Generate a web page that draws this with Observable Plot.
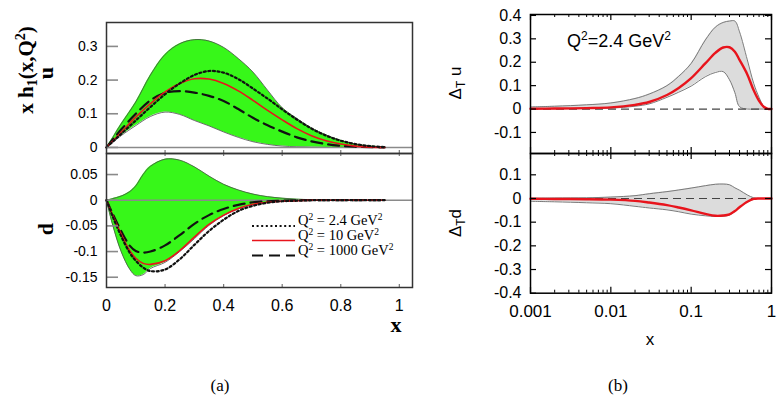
<!DOCTYPE html>
<html><head><meta charset="utf-8">
<script src="https://cdn.jsdelivr.net/npm/d3@7"></script>
<script src="https://cdn.jsdelivr.net/npm/@observablehq/plot@0.6"></script>
<style>
body{margin:0;background:#fff;}
#fig{position:relative;width:782px;height:402px;overflow:hidden;background:#fff;}
</style></head><body><div id="fig"></div>
<script>
// ---------- Panel (a): x h1(x,Q^2), u quark ----------
const xU = [0,0.025,0.05,0.1,0.15,0.2,0.25,0.3,0.35,0.4,0.45,0.5,0.55,0.6,0.65,0.7,0.75,0.8,0.85,0.9,0.95];
const uUpper = [0,0.035,0.07,0.135,0.215,0.276,0.308,0.32,0.316,0.297,0.264,0.224,0.17,0.118,0.086,0.058,0.037,0.021,0.01,0.004,0.001];
const uLower = [0,0.018,0.035,0.065,0.092,0.105,0.098,0.08,0.064,0.046,0.03,0.017,0.009,0.004,0.002,0.001,0,0,0,0,0];
const uQ24   = [0,0.02,0.04,0.08,0.12,0.158,0.19,0.215,0.227,0.222,0.203,0.175,0.145,0.113,0.083,0.056,0.035,0.02,0.01,0.004,0.001];
const uQ10   = [0,0.022,0.045,0.09,0.13,0.165,0.19,0.204,0.203,0.19,0.168,0.14,0.11,0.082,0.056,0.035,0.02,0.01,0.004,0.001,0];
const uQ1000 = [0,0.027,0.053,0.1,0.14,0.162,0.167,0.163,0.153,0.138,0.114,0.088,0.066,0.047,0.03,0.018,0.01,0.005,0.002,0.001,0];

// ---------- Panel (a): d quark ----------
const xD = [0,0.02,0.05,0.08,0.1,0.125,0.15,0.2,0.25,0.3,0.35,0.4,0.45,0.5,0.55,0.6,0.65,0.7,0.75,0.8,0.85,0.9,0.95];
const dUpper = [0,0.003,0.008,0.017,0.028,0.05,0.066,0.08,0.078,0.065,0.047,0.031,0.02,0.012,0.007,0.004,0.002,0.001,0,0,0,0,0];
const dLower = [0,-0.046,-0.1,-0.135,-0.147,-0.145,-0.133,-0.121,-0.1,-0.075,-0.049,-0.03,-0.017,-0.009,-0.004,-0.002,-0.001,0,0,0,0,0,0];
const dQ24   = [0,-0.03,-0.07,-0.103,-0.118,-0.131,-0.138,-0.135,-0.115,-0.087,-0.06,-0.038,-0.021,-0.011,-0.005,-0.002,-0.001,0,0,0,0,0,0];
const dQ10   = [0,-0.028,-0.066,-0.099,-0.113,-0.123,-0.125,-0.118,-0.098,-0.072,-0.047,-0.029,-0.016,-0.008,-0.004,-0.002,-0.001,0,0,0,0,0,0];
const dQ1000 = [0,-0.025,-0.06,-0.089,-0.099,-0.102,-0.1,-0.088,-0.068,-0.046,-0.029,-0.017,-0.009,-0.004,-0.002,-0.001,0,0,0,0,0,0,0];

// ---------- Panel (b): transversity at Q^2 = 2.4 GeV^2 ----------
const xB = [0.001,0.002,0.005,0.01,0.02,0.03,0.05,0.07,0.1,0.15,0.2,0.25,0.3,0.35,0.4,0.5,0.6,0.7,0.8,0.9,1.0];
const tuUpper = [0.009,0.012,0.018,0.026,0.045,0.064,0.1,0.14,0.195,0.295,0.35,0.37,0.376,0.376,0.33,0.21,0.11,0.05,0.012,0.002,0];
const tuLower = [0,0.001,0.002,0.004,0.012,0.022,0.05,0.072,0.098,0.138,0.156,0.16,0.125,0.07,0.01,0,0,0,0,0,0];
const tuCentral = [0.001,0.002,0.004,0.007,0.018,0.03,0.06,0.09,0.132,0.195,0.24,0.263,0.264,0.245,0.21,0.148,0.08,0.035,0.01,0.001,0];
const tdUpper = [0.001,0.002,0.003,0.006,0.012,0.02,0.029,0.036,0.044,0.054,0.06,0.061,0.058,0.045,0.035,0.015,0.003,0,0,0,0];
const tdLower = [-0.012,-0.014,-0.018,-0.022,-0.033,-0.04,-0.048,-0.056,-0.066,-0.073,-0.076,-0.075,-0.07,-0.055,-0.038,-0.015,-0.003,0,0,0,0];
const tdCentral = [-0.001,-0.002,-0.003,-0.005,-0.01,-0.017,-0.028,-0.038,-0.05,-0.065,-0.073,-0.072,-0.067,-0.053,-0.037,-0.014,-0.002,0,0,0,0];

// ---------- ticks ----------
const aTopYTicks = [0, 0.1, 0.2, 0.3];
const aBotYTicks = [0.05, 0, -0.05, -0.1, -0.15];
const aXTicks = [0, 0.2, 0.4, 0.6, 0.8, 1];
const bXTicks = [0.001, 0.01, 0.1, 1];
const bXMinor = [0.002,0.003,0.004,0.005,0.006,0.007,0.008,0.009,0.02,0.03,0.04,0.05,0.06,0.07,0.08,0.09,0.2,0.3,0.4,0.5,0.6,0.7,0.8,0.9];
const bTopYTicks = [-0.1, 0, 0.1, 0.2, 0.3, 0.4];
const bBotYTicks = [-0.4, -0.3, -0.2, -0.1, 0, 0.1];

const legendLabels = ["2.4", "10", "1000"];

// ---------- build ----------
const fig = document.getElementById("fig");
const GREEN = "#37f719";
const RED = "#e8141c";
const SANS = "'Liberation Sans', Arial, Helvetica, sans-serif";
const curve = "catmull-rom";
const fmt = d => String(d);

function place(el, left, top) {
  el.style.position = "absolute";
  el.style.left = left + "px";
  el.style.top = top + "px";
  fig.appendChild(el);
}

const uRows = xU.map((x, i) => ({x, lo: uLower[i], hi: uUpper[i], a: uQ24[i], b: uQ10[i], c: uQ1000[i]}));
const dRows = xD.map((x, i) => ({x, lo: dLower[i], hi: dUpper[i], a: dQ24[i], b: dQ10[i], c: dQ1000[i]}));
const tuRows = xB.map((x, i) => ({x, lo: tuLower[i], hi: tuUpper[i], m: tuCentral[i]}));
const tdRows = xB.map((x, i) => ({x, lo: tdLower[i], hi: tdUpper[i], m: tdCentral[i]}));

function panelAMarks(rows, innerW, innerH, yTicks, topTicks, bottomTicks) {
  const marks = [
    Plot.areaY(rows, {x: "x", y1: "lo", y2: "hi", fill: GREEN, curve}),
    Plot.line(rows, {x: "x", y: "hi", stroke: "#4a4a4a", strokeWidth: 0.8, curve}),
    Plot.line(rows, {x: "x", y: "lo", stroke: "#4a4a4a", strokeWidth: 0.8, curve}),
    Plot.ruleY([0], {stroke: "#8a8a8a", strokeWidth: 1.6}),
    Plot.line(rows, {x: "x", y: "c", stroke: "#111", strokeWidth: 2.2, strokeDasharray: "11,6", curve}),
    Plot.line(rows, {x: "x", y: "b", stroke: RED, strokeWidth: 1.6, curve}),
    Plot.line(rows, {x: "x", y: "a", stroke: "#111", strokeWidth: 2.2, strokeDasharray: "2,2.6", curve}),
    Plot.tickY(yTicks, {y: d => d, insetRight: innerW - 12, stroke: "#8a8a8a", strokeWidth: 1.6}),
    Plot.axisY(yTicks, {tickSize: 0, tickPadding: 9, fontSize: 14, tickFormat: fmt, label: null})
  ];
  if (topTicks) marks.push(Plot.tickX(aXTicks.slice(1), {x: d => d, insetBottom: innerH - 3, stroke: "#777", strokeWidth: 1.2}));
  if (bottomTicks) marks.push(Plot.tickX(aXTicks.slice(1), {x: d => d, insetTop: innerH - 3, stroke: "#777", strokeWidth: 1.2}));
  marks.push(Plot.frame({stroke: "#333", strokeWidth: 1.5}));
  return marks;
}

// (a) top: u
{
  const W = 420, H = 154, mL = 106, mR = 8, mT = 22, mB = 1;
  const p = Plot.plot({
    width: W, height: H, marginLeft: mL, marginRight: mR, marginTop: mT, marginBottom: mB,
    style: {background: "transparent", fontFamily: SANS, overflow: "visible"},
    x: {domain: [0, 1.045], axis: null, label: null},
    y: {domain: [-0.018, 0.371], label: null},
    marks: panelAMarks(uRows, W - mL - mR, H - mT - mB, aTopYTicks, false, true)
  });
  place(p, 0, 0);
}
// (a) bottom: d
{
  const W = 420, H = 190, mL = 106, mR = 8, mT = 0, mB = 56;
  const p = Plot.plot({
    width: W, height: H, marginLeft: mL, marginRight: mR, marginTop: mT, marginBottom: mB,
    style: {background: "transparent", fontFamily: SANS, overflow: "visible"},
    x: {domain: [0, 1.045], label: null},
    y: {domain: [-0.170, 0.091], label: null},
    marks: [
      ...panelAMarks(dRows, W - mL - mR, H - mT - mB, aBotYTicks, true, true),
      Plot.axisX(aXTicks, {tickSize: 0, tickPadding: 12, fontSize: 16, tickFormat: fmt, label: null})
    ]
  });
  place(p, 0, 153);
}

function panelBMarks(rows, innerW, innerH, yTicks) {
  return [
    Plot.areaY(rows, {x: "x", y1: "lo", y2: "hi", fill: "#dcdcdc", curve}),
    Plot.line(rows, {x: "x", y: "hi", stroke: "#7a7a7a", strokeWidth: 1, curve}),
    Plot.line(rows, {x: "x", y: "lo", stroke: "#7a7a7a", strokeWidth: 1, curve}),
    Plot.ruleY([0], {stroke: "#444", strokeWidth: 1.2, strokeDasharray: "8,5"}),
    Plot.line(rows, {x: "x", y: "m", stroke: RED, strokeWidth: 2.4, curve}),
    Plot.tickX(bXTicks, {x: d => d, insetBottom: innerH - 6, stroke: "#000", strokeWidth: 1.2}),
    Plot.tickX(bXTicks, {x: d => d, insetTop: innerH - 6, stroke: "#000", strokeWidth: 1.2}),
    Plot.tickX(bXMinor, {x: d => d, insetBottom: innerH - 3, stroke: "#000", strokeWidth: 1}),
    Plot.tickX(bXMinor, {x: d => d, insetTop: innerH - 3, stroke: "#000", strokeWidth: 1}),
    Plot.tickY(yTicks, {y: d => d, insetRight: innerW - 6, stroke: "#000", strokeWidth: 1.2}),
    Plot.tickY(yTicks, {y: d => d, insetLeft: innerW - 6, stroke: "#000", strokeWidth: 1.2}),
    Plot.axisY(yTicks, {tickSize: 0, tickPadding: 9, fontSize: 16, tickFormat: fmt, label: null}),
    Plot.frame({stroke: "#000", strokeWidth: 1.5})
  ];
}

// (b) top: Delta_T u
{
  const W = 362, H = 154, mL = 110, mR = 11, mT = 14, mB = 1;
  const p = Plot.plot({
    width: W, height: H, marginLeft: mL, marginRight: mR, marginTop: mT, marginBottom: mB,
    style: {background: "transparent", fontFamily: SANS, overflow: "visible"},
    x: {type: "log", domain: [0.001, 1], axis: null, label: null},
    y: {domain: [-0.19, 0.404], label: null},
    marks: panelBMarks(tuRows, W - mL - mR, H - mT - mB, bTopYTicks)
  });
  place(p, 420, 0);
}
// (b) bottom: Delta_T d
{
  const W = 362, H = 200, mL = 110, mR = 11, mT = 0, mB = 60.3;
  const p = Plot.plot({
    width: W, height: H, marginLeft: mL, marginRight: mR, marginTop: mT, marginBottom: mB,
    style: {background: "transparent", fontFamily: SANS, overflow: "visible"},
    x: {type: "log", domain: [0.001, 1], label: null},
    y: {domain: [-0.4, 0.19], label: null},
    marks: [
      ...panelBMarks(tdRows, W - mL - mR, H - mT - mB, bBotYTicks),
      Plot.axisX(bXTicks, {tickSize: 0, tickPadding: 12, fontSize: 17, tickFormat: fmt, label: null})
    ]
  });
  place(p, 420, 153);
}

// ---------- labels, legend, captions ----------
const SERIF = "'Liberation Serif', 'Times New Roman', serif";
const legendY = [226, 240.5, 255.5];
const legendStyles = [
  `stroke="#111" stroke-width="2.2" stroke-dasharray="2,2.6"`,
  `stroke="${RED}" stroke-width="1.6"`,
  `stroke="#111" stroke-width="2.2" stroke-dasharray="11,6"`
];
let legend = "";
legendLabels.forEach((lab, i) => {
  legend += `<line x1="252" x2="295" y1="${legendY[i]}" y2="${legendY[i]}" ${legendStyles[i]}/>`;
  legend += `<text x="298" y="${legendY[i] - 1}" font-family="${SERIF}" font-size="14.5">Q<tspan dy="-5" font-size="9.5">2</tspan><tspan dy="5"> = ${lab} GeV</tspan><tspan dy="-5" font-size="9.5">2</tspan></text>`;
});

const ov = document.createElementNS("http://www.w3.org/2000/svg", "svg");
ov.setAttribute("width", 782); ov.setAttribute("height", 402);
ov.style.pointerEvents = "none";
ov.innerHTML = `
<text transform="translate(33,70) rotate(-90)" text-anchor="middle" font-family="${SERIF}" font-weight="bold" font-size="21">x h<tspan dy="4" font-size="14">1</tspan><tspan dy="-4">(x,Q</tspan><tspan dy="-8" font-size="14">2</tspan><tspan dy="8">)</tspan></text>
<text transform="translate(53,73) rotate(-90)" text-anchor="middle" font-family="${SERIF}" font-weight="bold" font-size="22">u</text>
<text transform="translate(53,229) rotate(-90)" text-anchor="middle" font-family="${SERIF}" font-weight="bold" font-size="22">d</text>
<text x="396" y="332" text-anchor="middle" font-family="${SERIF}" font-weight="bold" font-size="22">x</text>
${legend}
<text transform="translate(461,83) rotate(-90)" text-anchor="middle" font-family="${SANS}" font-size="17">Δ<tspan dy="4" font-size="12">T</tspan><tspan dy="-4"> u</tspan></text>
<text transform="translate(461,223) rotate(-90)" text-anchor="middle" font-family="${SANS}" font-size="17">Δ<tspan dy="4" font-size="12">T</tspan><tspan dy="-4">d</tspan></text>
<text x="567" y="47" font-family="${SANS}" font-size="18">Q<tspan dy="-7" font-size="12">2</tspan><tspan dy="7">=2.4 GeV</tspan><tspan dy="-7" font-size="12">2</tspan></text>
<text x="650" y="345" text-anchor="middle" font-family="${SANS}" font-size="17">x</text>
<text x="220" y="391" text-anchor="middle" font-family="${SERIF}" font-size="17">(a)</text>
<text x="618" y="391" text-anchor="middle" font-family="${SERIF}" font-size="17">(b)</text>
`;
place(ov, 0, 0);
</script></body></html>
